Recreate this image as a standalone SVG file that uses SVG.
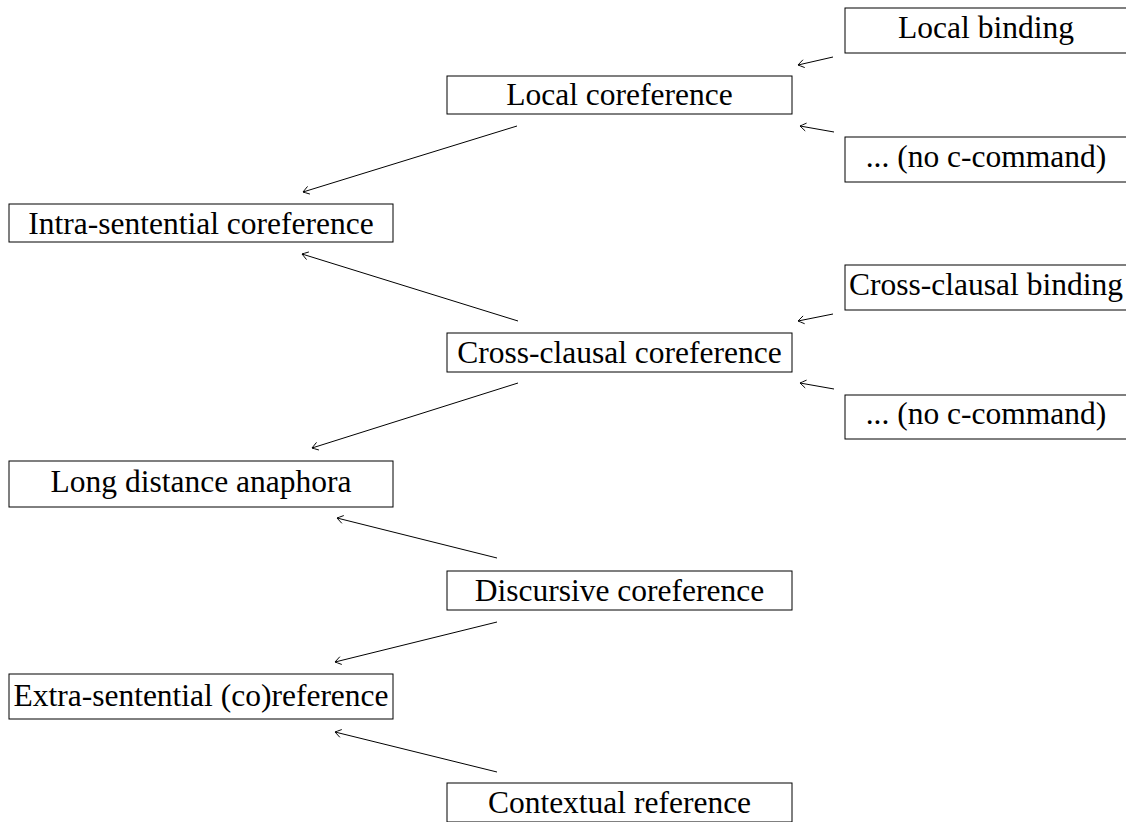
<svg xmlns="http://www.w3.org/2000/svg" width="1126" height="822" viewBox="0 0 1126 822">
<style>
.box{fill:#fff;stroke:#000;stroke-width:1}
.lbl{font-family:"Liberation Serif","Times New Roman",serif;font-size:31.5px;fill:#000;text-anchor:middle}
.edge{stroke:#000;stroke-width:1;fill:none;marker-end:url(#to)}
</style>
<defs>
<marker id="to" viewBox="-8 -5 10 10" refX="0" refY="0" markerWidth="10" markerHeight="10" markerUnits="userSpaceOnUse" orient="auto">
<path d="M-6,-4 Q-1.5,-1 0,0 Q-1.5,1 -6,4" fill="none" stroke="#000" stroke-width="0.9"/>
</marker>
</defs>
<rect width="1126" height="822" fill="#fff"/>
<g id="connectors">
<line class="edge" x1="833" y1="57" x2="798" y2="65"/>
<line class="edge" x1="834" y1="132" x2="800" y2="126"/>
<line class="edge" x1="517" y1="126" x2="303" y2="192"/>
<line class="edge" x1="518" y1="321" x2="302" y2="254"/>
<line class="edge" x1="833" y1="314" x2="798" y2="321"/>
<line class="edge" x1="834" y1="389" x2="800" y2="383"/>
<line class="edge" x1="518" y1="383" x2="312" y2="448"/>
<line class="edge" x1="497" y1="558" x2="337" y2="518"/>
<line class="edge" x1="497" y1="622" x2="335" y2="662"/>
<line class="edge" x1="497" y1="772" x2="335" y2="732"/>
</g>
<g id="local-binding"><rect class="box" x="845" y="8" width="283" height="45"/><text class="lbl" x="986" y="37.5">Local binding</text></g>
<g id="no-c-command-1"><rect class="box" x="845" y="137" width="283" height="45"/><text class="lbl" x="986" y="166.5">... (no c-command)</text></g>
<g id="local-coreference"><rect class="box" x="447" y="76" width="345" height="38"/><text class="lbl" x="619.5" y="105">Local coreference</text></g>
<g id="intra-sentential"><rect class="box" x="9" y="204" width="384" height="38"/><text class="lbl" x="201" y="233.5">Intra-sentential coreference</text></g>
<g id="cross-clausal-binding"><rect class="box" x="845" y="265" width="283" height="45"/><text class="lbl" x="986" y="294.5">Cross-clausal binding</text></g>
<g id="no-c-command-2"><rect class="box" x="845" y="395" width="283" height="44"/><text class="lbl" x="986" y="423.5">... (no c-command)</text></g>
<g id="cross-clausal-coreference"><rect class="box" x="447" y="333" width="345" height="39"/><text class="lbl" x="619.5" y="363">Cross-clausal coreference</text></g>
<g id="long-distance"><rect class="box" x="9" y="461" width="384" height="46"/><text class="lbl" x="201" y="491.5">Long distance anaphora</text></g>
<g id="discursive"><rect class="box" x="447" y="571" width="345" height="39"/><text class="lbl" x="619.5" y="601">Discursive coreference</text></g>
<g id="extra-sentential"><rect class="box" x="9" y="674" width="384" height="45"/><text class="lbl" x="201" y="706">Extra-sentential (co)reference</text></g>
<g id="contextual"><rect class="box" x="447" y="783" width="345" height="39"/><text class="lbl" x="619.5" y="813">Contextual reference</text></g>
</svg>
